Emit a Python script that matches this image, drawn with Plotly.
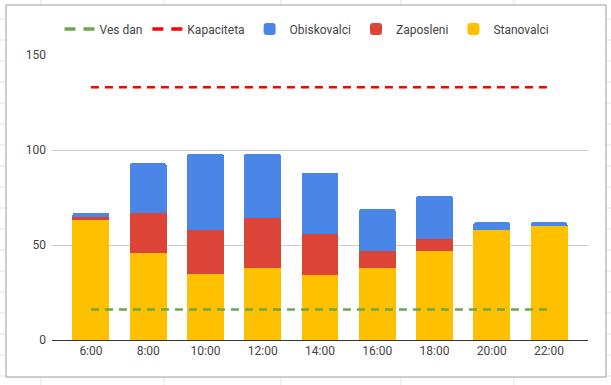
import plotly.graph_objects as go

# ---- data ----
categories = ["6:00", "8:00", "10:00", "12:00", "14:00", "16:00", "18:00", "20:00", "22:00"]
stanovalci = [63, 46, 35, 38, 34, 38, 47, 58, 60]
zaposleni = [2, 21, 23, 26, 22, 9, 6, 0, 0]
obiskovalci = [2, 26, 40, 34, 32, 22, 23, 4, 2]
ves_dan = [16, 16, 16, 16, 16, 16, 16, 16, 16]
kapaciteta = [133, 133, 133, 133, 133, 133, 133, 133, 133]
y_ticks = [0, 50, 100, 150]

W, H = 611, 385
L, R, T, B = 52, 588, 55, 340  # plot area in pixels

def px(x):
    return (x - L) / (R - L)

def py(y):
    return (B - y) / (B - T)

FONT = "Roboto, Arial, sans-serif"
GREEN, RED_LINE = "#6aa84f", "#ff0000"
fig = go.Figure()

fig.add_trace(go.Bar(x=categories, y=stanovalci, name="Stanovalci",
                     marker=dict(color="#ffc000", line=dict(width=0)), legendrank=5))
fig.add_trace(go.Bar(x=categories, y=zaposleni, name="Zaposleni",
                     marker=dict(color="#db4437", line=dict(width=0)), legendrank=4))
fig.add_trace(go.Bar(x=categories, y=obiskovalci, name="Obiskovalci",
                     marker=dict(color="#4a86e8", line=dict(width=0)), legendrank=3))
fig.add_trace(go.Scatter(x=categories, y=ves_dan, name="Ves dan", mode="lines", showlegend=False,
                         line=dict(color=GREEN, width=2.5, dash="8px,6px")))
fig.add_trace(go.Scatter(x=categories, y=kapaciteta, name="Kapaciteta", mode="lines", showlegend=False,
                         line=dict(color=RED_LINE, width=2.5, dash="8px,6px")))
# legend entries for the dashed lines (legend glyph style)
fig.add_trace(go.Scatter(x=[None], y=[None], name="Ves dan", mode="lines", legendrank=1,
                         line=dict(color=GREEN, width=3.5, dash="11px,8px")))
fig.add_trace(go.Scatter(x=[None], y=[None], name="Kapaciteta", mode="lines", legendrank=2,
                         line=dict(color=RED_LINE, width=3.5, dash="11px,8px")))

shapes = []
grid_col = "#e3e3e3"
# spreadsheet cell lines outside the chart box
for gx in [41, 164, 281, 401, 514]:
    shapes.append(dict(type="line", xref="paper", yref="paper", x0=px(gx), x1=px(gx),
                       y0=py(0), y1=py(5), line=dict(color=grid_col, width=1), layer="below"))
    shapes.append(dict(type="line", xref="paper", yref="paper", x0=px(gx), x1=px(gx),
                       y0=py(377), y1=py(385), line=dict(color=grid_col, width=1), layer="below"))
for k in range(18):
    gy = 19 + 21 * k
    shapes.append(dict(type="line", xref="paper", yref="paper", x0=px(0), x1=px(6),
                       y0=py(gy), y1=py(gy), line=dict(color=grid_col, width=1), layer="below"))
    shapes.append(dict(type="line", xref="paper", yref="paper", x0=px(606), x1=px(611),
                       y0=py(gy), y1=py(gy), line=dict(color=grid_col, width=1), layer="below"))
# chart border
shapes.append(dict(type="rect", xref="paper", yref="paper", x0=px(6), x1=px(606),
                   y0=py(377), y1=py(5), line=dict(color="#9e9e9e", width=1), layer="below"))

fig.update_layout(
    width=W, height=H,
    margin=dict(l=L, r=W - R, t=T, b=H - B, pad=0),
    paper_bgcolor="white", plot_bgcolor="white",
    font=dict(family=FONT, size=12, color="#444444"),
    barmode="stack", bargap=0.355, barcornerradius=3,
    showlegend=True,
    legend=dict(orientation="h", x=px(307), xanchor="center", y=py(29), yanchor="middle",
                font=dict(size=12, color="#444444"), bgcolor="rgba(0,0,0,0)",
                itemwidth=30, traceorder="normal"),
    xaxis=dict(type="category", range=[-0.68, 8.68], showgrid=False, showline=False,
               ticks="", tickfont=dict(size=12, color="#444444"), zeroline=False,
               ticklabelstandoff=2),
    yaxis=dict(range=[0, 150], tickvals=y_ticks, showgrid=True, gridcolor="#cccccc",
               gridwidth=1, zeroline=True, zerolinecolor="#333333", zerolinewidth=1,
               showline=False, ticks="", tickfont=dict(size=12, color="#444444"),
               ticklabelstandoff=5),
    shapes=shapes,
)

fig.write_html("out.html", config={"displayModeBar": False},
               post_script="document.body.style.margin='0';document.body.style.padding='0';")
